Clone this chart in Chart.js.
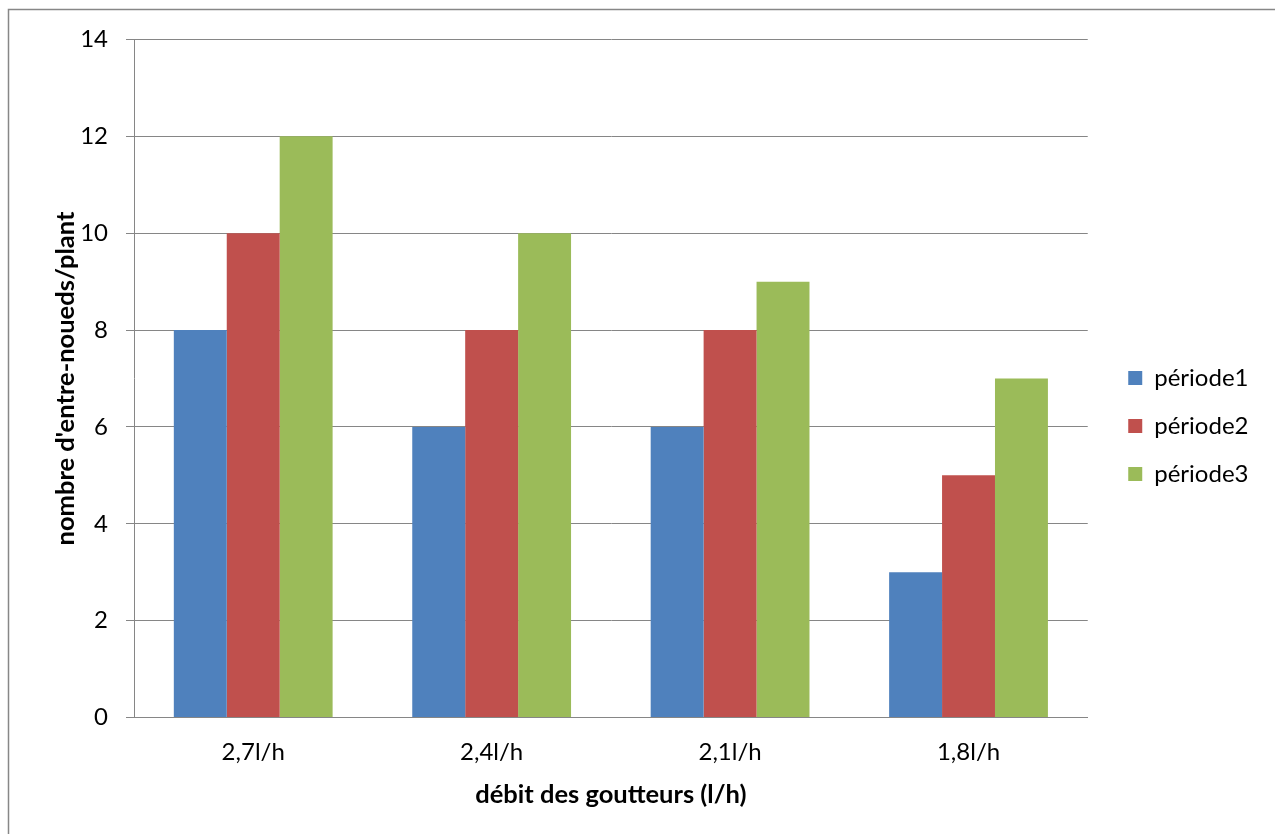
<!DOCTYPE html>
<html lang="fr">
<head>
<meta charset="utf-8">
<title>Nombre d'entre-noueds par plant</title>
<script src="https://cdn.jsdelivr.net/npm/chart.js@4/dist/chart.umd.min.js"></script>
<style>
  html, body { margin: 0; padding: 0; background: #ffffff; }
  canvas { display: block; }
</style>
</head>
<body>
<canvas id="chart" width="1275" height="834"></canvas>
<script>
// Catégories : débit des goutteurs
const categories = ['2,7l/h', '2,4l/h', '2,1l/h', '1,8l/h'];

// Nombre d'entre-noueds par plant, pour chaque période
const periode1 = [8, 6, 6, 3];
const periode2 = [10, 8, 8, 5];
const periode3 = [12, 10, 9, 7];

const seriesNames = ['période1', 'période2', 'période3'];
const yTicks = [0, 2, 4, 6, 8, 10, 12, 14];

const FONT = 'Lato, "Open Sans", "Liberation Sans", sans-serif';
const GRID = '#868686';

// White background and the frame of the chart
const framePlugin = {
  id: 'frame',
  beforeDraw(chart) {
    const ctx = chart.ctx;
    ctx.save();
    ctx.fillStyle = '#ffffff';
    ctx.fillRect(0, 0, chart.width, chart.height);
    ctx.strokeStyle = '#878787';
    ctx.lineWidth = 1.5;
    ctx.beginPath();
    ctx.moveTo(8.5, chart.height + 2);
    ctx.lineTo(8.5, 9.5);
    ctx.lineTo(chart.width + 2, 9.5);
    ctx.stroke();
    ctx.restore();
  }
};

new Chart(document.getElementById('chart'), {
  type: 'bar',
  data: {
    labels: categories,
    datasets: [
      { label: seriesNames[0], data: periode1, backgroundColor: '#4F81BD' },
      { label: seriesNames[1], data: periode2, backgroundColor: '#C0504D' },
      { label: seriesNames[2], data: periode3, backgroundColor: '#9BBB59' }
    ]
  },
  options: {
    responsive: false,
    animation: false,
    devicePixelRatio: 1,
    categoryPercentage: 0.666,
    barPercentage: 1.0,
    layout: { padding: { top: 39.5, bottom: 21.5, left: 0, right: 16.5 } },
    plugins: {
      tooltip: { enabled: false },
      legend: {
        position: 'right',
        align: 'center',
        labels: {
          boxWidth: 14,
          boxHeight: 14,
          padding: 24,
          color: '#000000',
          font: { family: FONT, size: 24 }
        }
      }
    },
    scales: {
      x: {
        grid: { display: false, drawTicks: false },
        border: { display: true, color: GRID, width: 1 },
        ticks: { color: '#000000', padding: 20, font: { family: FONT, size: 24 } },
        title: {
          display: true,
          text: 'débit des goutteurs (l/h)',
          color: '#000000',
          padding: { top: 0, bottom: 2 },
          font: { family: FONT, size: 25.5, weight: 'bold' }
        },
        afterFit(scale) { scale.height = 95; }
      },
      y: {
        min: 0,
        max: 14,
        afterBuildTicks(scale) { scale.ticks = yTicks.map(v => ({ value: v })); },
        grid: { color: GRID, lineWidth: 1, drawTicks: true, tickLength: 8 },
        border: { display: true, color: GRID, width: 1 },
        ticks: { color: '#000000', padding: 18, font: { family: FONT, size: 24 } },
        title: {
          display: true,
          text: "nombre d'entre-noueds/plant",
          color: '#000000',
          padding: { top: 50, bottom: 0 },
          font: { family: FONT, size: 25.5, weight: 'bold' }
        },
        afterFit(scale) { scale.width = 134; }
      },
      // spacer between the plot area and the legend
      gap: {
        type: 'linear',
        position: 'right',
        display: true,
        grid: { display: false, drawTicks: false },
        border: { display: false },
        ticks: { display: false },
        afterFit(scale) { scale.width = 16.5; }
      }
    }
  },
  plugins: [framePlugin]
});
</script>
</body>
</html>
